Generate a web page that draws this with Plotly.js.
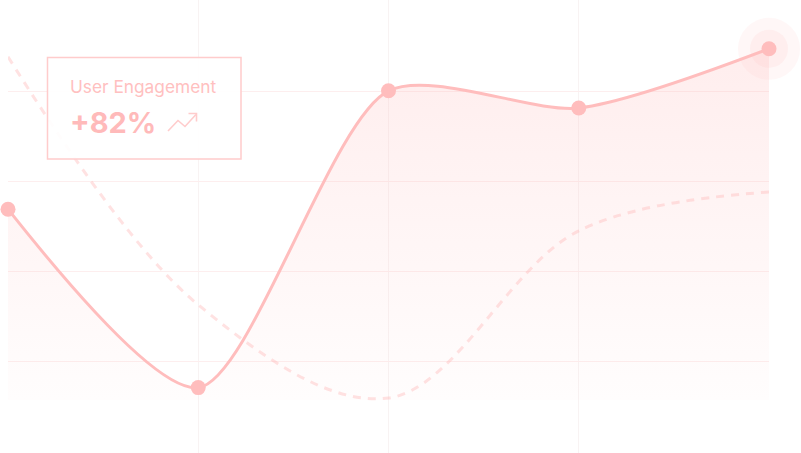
<!DOCTYPE html>
<html>
<head>
<meta charset="utf-8">
<script src="https://cdn.plot.ly/plotly-3.0.1.min.js"></script>
<style>
  html, body { margin: 0; padding: 0; background: #ffffff; }
  #chart { width: 801px; height: 453px; }
</style>
</head>
<body>
<div id="chart"></div>
<script>
// ---- data ----
const categories = ['Jan', 'Feb', 'Mar', 'Apr', 'May'];
const engagement = [47.7, 3.1, 77.3, 73.0, 87.8];
const previous = [85.8, 23.8, 0.5, 42.3, 52.0];
const gridValues = [9.75, 32.25, 54.75, 77.25];
const xGridCats = ['Feb', 'Mar', 'Apr'];
const cardLabel = 'User Engagement';
const cardValue = '+82%';

// ---- layout helpers (pixel -> paper fraction) ----
const W = 801, H = 453;
const M = { l: 8, r: 32, t: 0, b: 0 };
const plotW = W - M.l - M.r, plotH = H - M.t - M.b;
const px = p => (p - M.l) / plotW;
const py = p => 1 - (p - M.t) / plotH;

const lineColor = '#ffbdbd';
const last = engagement.length - 1;

const traces = [
  {
    x: [categories[last], categories[last]],
    y: [engagement[last], engagement[last]],
    mode: 'markers',
    marker: { size: [62, 38], color: ['rgba(255,189,189,0.18)', 'rgba(255,189,189,0.21)'], line: { width: 0 } },
    cliponaxis: false, hoverinfo: 'skip'
  },
  {
    x: categories, y: previous,
    mode: 'lines',
    line: { shape: 'spline', smoothing: 1, width: 3, dash: '8px,7px', color: 'rgba(255,178,178,0.38)' },
    hoverinfo: 'skip'
  },
  {
    x: categories, y: engagement,
    mode: 'lines+markers',
    fill: 'tozeroy',
    fillgradient: {
      type: 'vertical',
      colorscale: [[0, 'rgba(255,189,189,0.03)'], [1, 'rgba(255,189,189,0.27)']]
    },
    line: { shape: 'spline', smoothing: 0.75, width: 3, color: lineColor },
    marker: { size: 15, color: lineColor },
    cliponaxis: false, hoverinfo: 'skip'
  }
];

// trending-up icon (pixel coordinates converted to paper)
const iconPts = [[168, 131], [178, 120.5], [185, 126.5], [196, 114.5]];
const headPts = [[188.5, 113.5], [196.5, 113.5], [196.5, 121.5]];
const toPath = pts => pts.map((p, i) => (i ? 'L' : 'M') + px(p[0]).toFixed(5) + ',' + py(p[1]).toFixed(5)).join(' ');

const layout = {
  width: W, height: H,
  margin: { l: M.l, r: M.r, t: M.t, b: M.b, pad: 0 },
  paper_bgcolor: '#ffffff', plot_bgcolor: '#ffffff',
  showlegend: false,
  xaxis: {
    type: 'category', categoryorder: 'array', categoryarray: categories,
    range: [0, categories.length - 1],
    tickvals: xGridCats, showticklabels: false, ticks: '',
    showgrid: true, gridcolor: '#f8f3f3', gridwidth: 1,
    zeroline: false, showline: false, fixedrange: true
  },
  yaxis: {
    range: [-13.25, 100],
    tickvals: gridValues, showticklabels: false, ticks: '',
    showgrid: true, gridcolor: '#fdeeee', gridwidth: 1,
    zeroline: false, showline: false, fixedrange: true
  },
  shapes: [
    {
      type: 'rect', xref: 'paper', yref: 'paper', layer: 'above',
      x0: px(47.5), x1: px(241), y0: py(159), y1: py(57.5),
      fillcolor: 'rgba(255,255,255,0.92)',
      line: { color: '#ffcccc', width: 1.5 }
    },
    {
      type: 'path', xref: 'paper', yref: 'paper', layer: 'above',
      path: toPath(iconPts), line: { color: '#ffcccc', width: 1.6 }
    },
    {
      type: 'path', xref: 'paper', yref: 'paper', layer: 'above',
      path: toPath(headPts), line: { color: '#ffcccc', width: 1.6 }
    }
  ],
  annotations: [
    {
      text: cardLabel, xref: 'paper', yref: 'paper',
      x: px(68), y: py(87), xanchor: 'left', yanchor: 'middle', showarrow: false,
      font: { family: 'Inter, "Open Sans", sans-serif', size: 17.3, color: '#ffc0c0' }
    },
    {
      text: cardValue, xref: 'paper', yref: 'paper',
      x: px(68), y: py(122.5), xanchor: 'left', yanchor: 'middle', showarrow: false,
      font: { family: 'Inter, "Open Sans", sans-serif', size: 29, weight: 700, color: '#ffbaba' }
    }
  ]
};

Plotly.newPlot('chart', traces, layout, { displayModeBar: false, staticPlot: true });
</script>
</body>
</html>
